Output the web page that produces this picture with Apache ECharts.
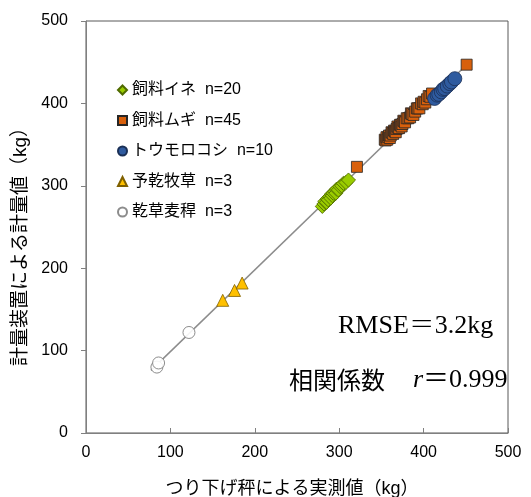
<!DOCTYPE html>
<html>
<head>
<meta charset="utf-8">
<script src="https://cdn.jsdelivr.net/npm/echarts@6/dist/echarts.min.js"></script>
<style>
html, body { margin: 0; padding: 0; background: #fff; }
#chart { width: 531px; height: 497px; }
</style>
</head>
<body>
<div id="chart"></div>
<script>
var seriesNames = ['飼料イネ  n=20', '飼料ムギ  n=45', 'トウモロコシ  n=10', '予乾牧草  n=3', '乾草麦稈  n=3'];

// 飼料イネ
var riceX = [280, 282, 283, 285, 286, 287, 289, 290, 291, 292, 293, 295, 296, 297, 299, 301, 303, 305, 308, 311];
var riceY = [275, 278, 281, 280, 284, 283, 287, 285, 290, 288, 291, 293, 291, 296, 295, 299, 300, 303, 304, 307];

// 飼料ムギ
var wheatX = [321, 354, 355, 356, 357, 358, 359, 360, 361, 362, 363, 364, 365, 366, 367, 368, 369, 370, 371, 372, 373,
    374, 375, 376, 377, 378, 380, 382, 384, 385, 386, 388, 390, 392, 393, 395, 397, 399, 400, 402, 404, 406, 408, 410, 451];
var wheatY = [323, 356, 355, 359, 356, 359, 361, 358, 361, 365, 364, 363, 367, 366, 365, 369, 372, 370, 370, 374, 374,
    372, 375, 379, 378, 377, 382, 382, 383, 388, 387, 386, 390, 394, 394, 394, 400, 399, 402, 401, 405, 409, 408, 412, 447];

// トウモロコシ
var cornX = [413, 416, 418, 421, 423, 425, 428, 431, 433, 437];
var cornY = [406, 410, 411, 414, 417, 418, 421, 424, 426, 430];

// 予乾牧草
var hayX = [162, 176, 185];
var hayY = [161, 173, 182];

// 乾草麦稈
var strawX = [84, 86, 122];
var strawY = [80, 85, 122];

// 1:1 line
var lineX = [77, 451];
var lineY = [76, 447];

var pairs = function (xs, ys) {
    return xs.map(function (x, i) { return [x, ys[i]]; });
};

var baseFont = '"Liberation Sans", "Noto Sans CJK JP", sans-serif';
var chart = echarts.init(document.getElementById('chart'));

var option = {
    animation: false,
    backgroundColor: '#fff',
    textStyle: { fontFamily: baseFont },
    grid: {
        left: 86,
        right: 23,
        top: 21,
        bottom: 64,
        outerBoundsMode: 'none',
        show: true,
        borderColor: '#595959',
        borderWidth: 1
    },
    legend: {
        orient: 'vertical',
        left: 112,
        top: 77,
        itemWidth: 9,
        itemHeight: 9,
        itemGap: 14.5,
        textStyle: { fontSize: 16, color: '#000', fontFamily: baseFont },
        data: [
            { name: seriesNames[0], icon: 'diamond' },
            { name: seriesNames[1], icon: 'rect' },
            { name: seriesNames[2], icon: 'circle' },
            { name: seriesNames[3], icon: 'triangle' },
            { name: seriesNames[4], icon: 'circle' }
        ]
    },
    xAxis: {
        type: 'value',
        min: 0,
        max: 500,
        interval: 100,
        name: 'つり下げ秤による実測値（kg）',
        nameLocation: 'middle',
        nameGap: 47,
        nameTextStyle: { fontSize: 18, color: '#000', fontFamily: baseFont, padding: [0, 10, 0, 0] },
        axisLine: { lineStyle: { color: '#808080' } },
        axisTick: { inside: true, length: 5, lineStyle: { color: '#808080' } },
        axisLabel: { fontSize: 16, color: '#000', margin: 12 },
        splitLine: { show: false }
    },
    yAxis: {
        type: 'value',
        min: 0,
        max: 500,
        interval: 100,
        name: '計量装置による計量値（kg）',
        nameLocation: 'middle',
        nameGap: 54,
        nameTextStyle: { fontSize: 19, color: '#000', fontFamily: baseFont, padding: [0, 30, 0, 0] },
        axisLine: { show: true, lineStyle: { color: '#808080' } },
        axisTick: { show: true, inside: false, length: 5, lineStyle: { color: '#808080' } },
        axisLabel: { fontSize: 16, color: '#000', margin: 18 },
        splitLine: { show: false }
    },
    series: [{
        type: 'line',
        data: pairs(lineX, lineY),
        symbol: 'none',
        silent: true,
        lineStyle: { color: '#8c8c8c', width: 1.5 },
        z: 1
    }, {
        name: seriesNames[4],
        type: 'scatter',
        data: pairs(strawX, strawY),
        symbol: 'circle',
        symbolSize: 12,
        itemStyle: { color: '#fff', borderColor: '#7f7f7f', borderWidth: 1, opacity: 0.9 },
        z: 2
    }, {
        name: seriesNames[3],
        type: 'scatter',
        data: pairs(hayX, hayY),
        symbol: 'triangle',
        symbolSize: 12,
        itemStyle: { color: '#ffc000', borderColor: '#7f6000', borderWidth: 0.8, opacity: 1 },
        z: 3
    }, {
        name: seriesNames[0],
        type: 'scatter',
        data: pairs(riceX, riceY),
        symbol: 'rect',
        symbolRotate: 45,
        symbolSize: 10,
        itemStyle: { color: '#99cc00', borderColor: '#4f6a00', borderWidth: 0.8, opacity: 1 },
        z: 3
    }, {
        name: seriesNames[1],
        type: 'scatter',
        data: pairs(wheatX, wheatY),
        symbol: 'rect',
        symbolSize: 11,
        itemStyle: { color: '#d8600c', borderColor: '#262626', borderWidth: 0.8, opacity: 1 },
        z: 3
    }, {
        name: seriesNames[2],
        type: 'scatter',
        data: pairs(cornX, cornY),
        symbol: 'circle',
        symbolSize: 14,
        itemStyle: { color: '#2f5b9f', borderColor: '#1a2f55', borderWidth: 0.8, opacity: 1 },
        z: 4
    }],
    graphic: [{
        type: 'text',
        left: 338,
        top: 313,
        style: {
            text: 'RMSE＝3.2kg',
            fontSize: 26,
            fontFamily: '"Liberation Serif", "Noto Serif CJK JP", serif',
            fill: '#000'
        }
    }, {
        type: 'text',
        left: 289,
        top: 367,
        style: {
            text: '{a|相関係数}{b|r}{c|＝0.999}',
            fill: '#000',
            rich: {
                a: { fontSize: 24, fontFamily: '"Noto Sans CJK JP", sans-serif', fill: '#000' },
                b: { fontSize: 26, fontStyle: 'italic', fontFamily: '"Liberation Serif", serif', fill: '#000', padding: [0, 0, 0, 28] },
                c: { fontSize: 26, fontFamily: '"Liberation Serif", "Noto Sans CJK JP", serif', fill: '#000' }
            }
        }
    }]
};

chart.setOption(option);
</script>
</body>
</html>
